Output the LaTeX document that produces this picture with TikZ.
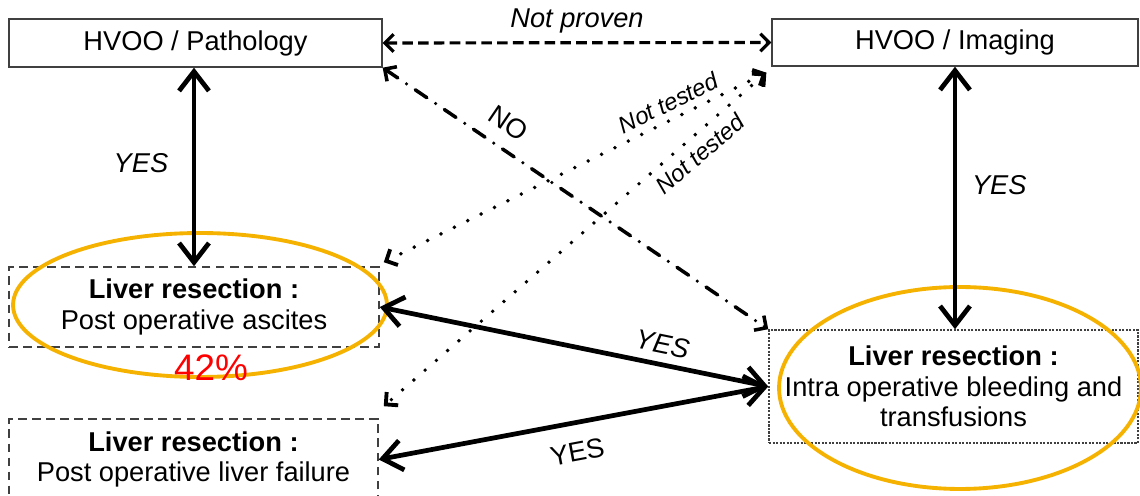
\documentclass[tikz,border=0pt]{standalone}
\usepackage{fontspec}
\setmainfont{Liberation Sans}
\usepackage{tikz}
\usetikzlibrary{arrows.meta, positioning}

\definecolor{ringorange}{RGB}{246,178,0}
\newcommand{\lblfont}{\fontsize{15.5}{17.5}\selectfont}

\tikzset{
  solidbox/.style={draw=black!75, line width=0.8pt, align=center, font=\lblfont, inner sep=0pt},
  dashbox/.style={solidbox, dash pattern=on 5pt off 3pt, line width=0.9pt},
  finebox/.style={solidbox, dash pattern=on 1.2pt off 0.8pt, line width=0.9pt},
  yesarrow/.style={<->, >={Straight Barb[length=11pt,width=17pt]}, line width=2.7pt},
  provenarrow/.style={<->, >={Straight Barb[length=5pt,width=10pt]}, line width=1.8pt, dash pattern=on 6pt off 3pt},
  noarrow/.style={<->, >={Straight Barb[length=5pt,width=10pt]}, line width=2pt, line cap=round, dash pattern=on 8pt off 6pt on 0pt off 6pt},
  testarrow/.style={<->, >={Straight Barb[length=5pt,width=10pt]}, line width=2.2pt, line cap=round, dash pattern=on 0pt off 8.5pt},
  lbl/.style={font=\lblfont\itshape},
  lblup/.style={font=\lblfont},
  lbltest/.style={font=\fontsize{13.5}{15}\selectfont\itshape}
}

\begin{document}
\begin{tikzpicture}[x=0.02cm, y=-0.02cm]
  \useasboundingbox (0,0) rectangle (1140,496);

  % boxes
  \node[solidbox, minimum width=7.46cm, minimum height=0.96cm] (patho) at (195.5,43) {HVOO / Pathology};
  \node[solidbox, minimum width=7.32cm, minimum height=0.94cm] (imag) at (955,42.5) {HVOO / Imaging};
  \node[dashbox, minimum width=7.40cm, minimum height=1.60cm] (ascites) at (194,307)
    {\textbf{Liver resection :}\\Post operative ascites};
  \node[dashbox, minimum width=7.38cm, minimum height=1.62cm] (failure) at (193.5,459.5)
    {\textbf{Liver resection :}\\Post operative liver failure};
  \node[finebox, minimum width=7.38cm, minimum height=2.26cm] (bleeding) at (953.5,386.5)
    {\textbf{Liver resection :}\\Intra operative bleeding and\\transfusions};

  % highlights
  \draw[ringorange, line width=2.2pt] (200,305) ellipse [x radius=3.74cm, y radius=1.44cm];
  \draw[ringorange, line width=2.2pt] (960,388) ellipse [x radius=3.62cm, y radius=2.02cm];
  \node[text=red, font=\fontsize{21}{24}\selectfont] (pct) at (211,368) {42\%};

  % YES
  \draw[yesarrow] (patho.south -| ascites.north) -- node[lbl, pos=0.48, left=10pt] {YES} (ascites.north);
  \draw[yesarrow] (imag.south) -- node[lbl, pos=0.45, right=5pt] {YES} (imag.south |- bleeding.north);
  \draw[yesarrow] (ascites.east) -- node[lbl, sloped, pos=0.717, above=1.3pt] {YES} (bleeding.west);
  \draw[yesarrow] (bleeding.west) -- node[lblup, sloped, pos=0.504, below=6.5pt] {YES} (failure.east);

  % not proven / NO
  \draw[provenarrow] (patho.east) -- node[lbl, above=1pt] {Not proven} (imag.west);
  \draw[noarrow] (patho.south east) -- node[lblup, sloped, pos=0.29, above=4.5pt] {NO} (bleeding.north west);

  % not tested
  \draw[testarrow] ([shift={(-5,6)}]imag.south west) -- node[lbltest, sloped, pos=0.237, above] {Not tested}
    ([shift={(4,-4)}]ascites.north east);
  \draw[testarrow] ([shift={(-5,6)}]imag.south west) -- node[lbltest, sloped, pos=0.204, below=0.6pt] {Not tested}
    ([shift={(5,-12)}]failure.north east);
\end{tikzpicture}
\end{document}
